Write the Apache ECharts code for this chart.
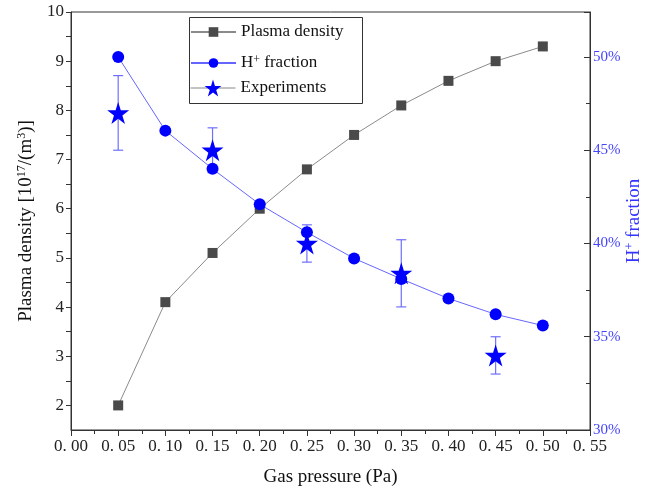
<!DOCTYPE html>
<html><head><meta charset="utf-8">
<script src="https://cdn.jsdelivr.net/npm/echarts@6/dist/echarts.min.js"></script>
<style>html,body{margin:0;padding:0;background:#fff}#c{width:645px;height:493px}</style>
</head><body><div id="c"></div>
<script>
var pressure = [0.05, 0.10, 0.15, 0.20, 0.25, 0.30, 0.35, 0.40, 0.45, 0.50];
var plasmaDensity = [2.0, 4.1, 5.1, 6.0, 6.8, 7.5, 8.1, 8.6, 9.0, 9.3];
var hFraction = [50.0, 46.05, 44.0, 42.1, 40.6, 39.2, 38.1, 37.05, 36.2, 35.6];
var expPressure = [0.05, 0.15, 0.25, 0.35, 0.45];
var expValue = [47.0, 45.0, 40.0, 38.4, 34.0];
var expUpper = [49.0, 46.2, 41.0, 40.2, 35.0];
var expLower = [45.0, 43.8, 39.0, 36.6, 33.0];

var FONT = '"Liberation Serif", "Times New Roman", serif';
var chart = echarts.init(document.getElementById('c'));
var legendText = {fontFamily: FONT, fontSize: 17, color: '#111', lineHeight: 18,
  rich: {sup: {fontSize: 12, verticalAlign: 'top', lineHeight: 8, fontFamily: FONT, color: '#111'}}};

chart.setOption({
  animation: false,
  textStyle: {fontFamily: FONT},
  grid: {left: 71, right: 55, top: 12, bottom: 63, outerBoundsMode: 'none', containLabel: false,
    show: true, borderColor: '#333', borderWidth: 1, backgroundColor: 'transparent'},
  graphic: [{type: 'rect', left: 187, top: 15, shape: {width: 173, height: 86},
    style: {fill: 'none', stroke: '#333', lineWidth: 1}, z: 10, silent: true}],
  legend: [{
    left: 190, top: 23, orient: 'vertical', itemWidth: 45, itemHeight: 12, itemGap: 13, padding: 0,
    textStyle: legendText,
    formatter: function (n) { return n === 'H+ fraction' ? 'H{sup|+} fraction' : n; },
    data: [{name: 'Plasma density'}, {name: 'H+ fraction'}]
  }, {
    left: 190, top: 79, orient: 'vertical', itemWidth: 45, itemHeight: 21, padding: 0,
    textStyle: legendText,
    data: [{name: 'Experiments', lineStyle: {color: '#888', width: 1, opacity: 1}}]
  }],
  xAxis: {
    type: 'value', min: 0, max: 0.55, interval: 0.05,
    name: 'Gas pressure (Pa)', nameLocation: 'middle', nameGap: 38,
    nameTextStyle: {fontFamily: FONT, fontSize: 19, color: '#111'},
    axisLine: {lineStyle: {color: '#333', width: 1}},
    axisTick: {show: true, length: 6, lineStyle: {color: '#333'}},
    minorTick: {show: true, splitNumber: 2, length: 4, lineStyle: {color: '#333'}},
    splitLine: {show: false},
    axisLabel: {fontFamily: FONT, fontSize: 17, color: '#222', margin: 8,
      formatter: function (v) { return v.toFixed(2).replace('.', '. '); }}
  },
  yAxis: [{
    type: 'value', min: 1.5, max: 10, interval: 0.5, position: 'left',
    name: 'Plasma density [10{sup|17}/(m{sup|3})]', nameLocation: 'middle', nameGap: 35, nameRotate: 90,
    nameTextStyle: {fontFamily: FONT, fontSize: 19, color: '#111', lineHeight: 20,
      rich: {sup: {fontSize: 12, verticalAlign: 'top', lineHeight: 10, fontFamily: FONT, color: '#111'}}},
    axisLine: {show: true, lineStyle: {color: '#333', width: 1}},
    axisTick: {show: true, length: 5, lineStyle: {color: '#333'}},
    splitLine: {show: false},
    axisLabel: {fontFamily: FONT, fontSize: 17, color: '#222', margin: 7, showMinLabel: false,
      formatter: function (v) { return Math.abs(v - Math.round(v)) < 1e-6 ? String(Math.round(v)) : ''; }}
  }, {
    type: 'value', min: 30, max: 52.41, interval: 5, position: 'right',
    name: 'H{sup|+} fraction', nameLocation: 'middle', nameGap: 34, nameRotate: 90, nameMoveOverlap: false,
    nameTextStyle: {fontFamily: FONT, fontSize: 19, color: '#3333ff', lineHeight: 20,
      rich: {sup: {fontSize: 12, verticalAlign: 'top', lineHeight: 10, fontFamily: FONT, color: '#3333ff'}}},
    axisLine: {show: true, lineStyle: {color: '#333', width: 1}},
    axisTick: {show: true, inside: true, length: 6, lineStyle: {color: '#333'}},
    minorTick: {show: true, splitNumber: 2, length: 4, lineStyle: {color: '#333'}},
    splitLine: {show: false},
    axisLabel: {fontFamily: FONT, fontSize: 15, color: '#4444ff', margin: 3, showMaxLabel: false,
      formatter: function (v) { return Math.round(v) + '%'; }}
  }],
  series: [{
    name: 'Plasma density', type: 'line', yAxisIndex: 0,
    data: pressure.map(function (x, i) { return [x, plasmaDensity[i]]; }),
    symbol: 'rect', symbolSize: 10,
    itemStyle: {color: '#4a4a4a'}, lineStyle: {color: '#8a8a8a', width: 1}
  }, {
    name: 'H+ fraction', type: 'line', yAxisIndex: 1,
    data: pressure.map(function (x, i) { return [x, hFraction[i]]; }),
    symbol: 'circle', symbolSize: 12,
    itemStyle: {color: '#0000ff'}, lineStyle: {color: '#6666ff', width: 1}
  }, {
    name: 'errbars', type: 'custom', yAxisIndex: 1, silent: true, z: 3,
    data: expPressure.map(function (x, i) { return [x, expLower[i], expUpper[i]]; }),
    renderItem: function (params, api) {
      var lo = api.coord([api.value(0), api.value(1)]);
      var hi = api.coord([api.value(0), api.value(2)]);
      var w = 5;
      var st = {stroke: '#6f6fff', lineWidth: 1.2};
      return {type: 'group', children: [
        {type: 'line', shape: {x1: hi[0], y1: hi[1], x2: lo[0], y2: lo[1]}, style: st},
        {type: 'line', shape: {x1: hi[0] - w, y1: hi[1], x2: hi[0] + w, y2: hi[1]}, style: st},
        {type: 'line', shape: {x1: lo[0] - w, y1: lo[1], x2: lo[0] + w, y2: lo[1]}, style: st}
      ]};
    },
    encode: {x: 0, y: [1, 2]}
  }, {
    name: 'Experiments', type: 'line', yAxisIndex: 1, z: 4,
    data: expPressure.map(function (x, i) { return [x, expValue[i]]; }),
    symbol: 'path://M50,0 L61.8,35.4 L100,35.4 L69.1,57.3 L80.9,93.1 L50,71.2 L19.1,93.1 L30.9,57.3 L0,35.4 L38.2,35.4 Z',
    symbolSize: 22,
    itemStyle: {color: '#0000ff'}, lineStyle: {width: 0, opacity: 0}
  }]
});
</script></body></html>
